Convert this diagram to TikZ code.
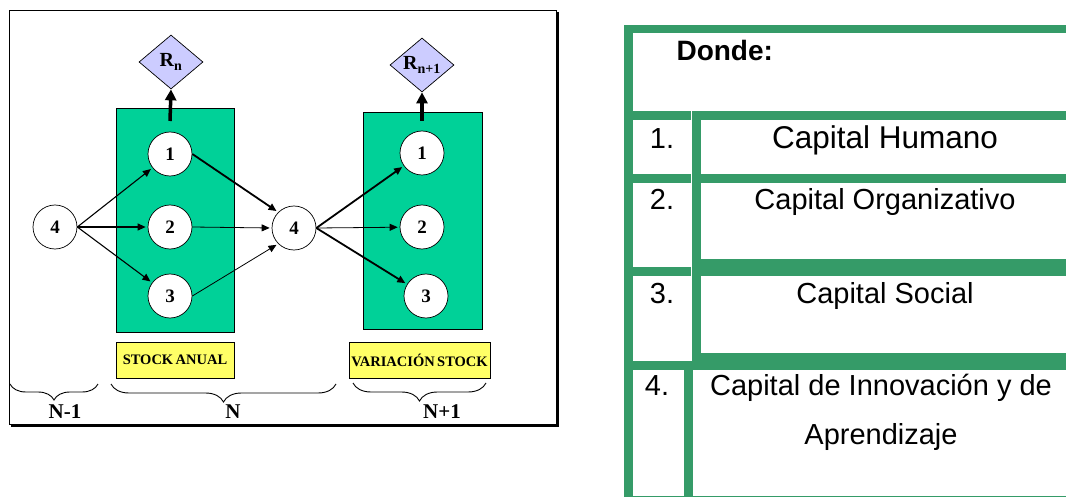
\documentclass[tikz,border=0pt]{standalone}
\usepackage{fontspec}
\setmainfont{Liberation Serif}
\newfontfamily\tabfont{Liberation Sans}
\usetikzlibrary{arrows.meta,shapes.geometric,decorations.pathreplacing}

\definecolor{boxgreen}{RGB}{0,209,152}
\definecolor{lilac}{RGB}{204,204,255}
\definecolor{labelyellow}{RGB}{255,255,102}
\definecolor{tabgreen}{RGB}{53,155,104}

\begin{document}
\begin{tikzpicture}[x=1pt,y=-1pt,
  stagebox/.style={draw=black,line width=0.8pt,fill=boxgreen},
  circ/.style={circle,draw,fill=white,minimum size=44pt,inner sep=0pt,line width=0.7pt,
    font=\fontsize{19}{19}\selectfont\bfseries},
  rnode/.style={diamond,draw,fill=lilac,minimum width=64pt,minimum height=54pt,inner sep=0pt,
    line width=0.7pt,font=\fontsize{20}{20}\selectfont\bfseries},
  tagbox/.style={draw,fill=labelyellow,line width=0.9pt,inner sep=0pt,
    font=\fontsize{14.5}{15}\selectfont\bfseries},
  flow/.style={-{Triangle[length=8pt,width=7pt]},line width=1.1pt,shorten >=2pt},
  flowthick/.style={flow,line width=1.8pt},
  flowthin/.style={flow,line width=0.8pt},
  rise/.style={-{Triangle[length=11pt,width=11pt]},line width=3.5pt},
  period/.style={line width=0.9pt,decorate,decoration={brace,mirror,amplitude=#1}},
  periodlabel/.style={anchor=base,font=\fontsize{21}{21}\selectfont\bfseries},
  bar/.style={fill=tabgreen,draw=none},
  celltext/.style={anchor=base,font=\tabfont\fontsize{29}{35}\selectfont},
]
\useasboundingbox (0,0) rectangle (1066,497);
\fill[white] (0,0) rectangle (1066,497);

% ---------- left diagram: framed panel ----------
\draw[line width=0.9pt] (9.5,10) rectangle (556,424);
\draw[line width=2.2pt] (11,425.5) -- (557.5,425.5) -- (557.5,12);

% stock boxes
\draw[stagebox] (116,108) rectangle (234,332);
\draw[stagebox] (363,112) rectangle (482,329);

% capital nodes
\node[circ] (l4) at (55,227) {4};
\node[circ] (a1) at (170,154) {1};
\node[circ] (a2) at (170,227) {2};
\node[circ] (a3) at (170,296) {3};
\node[circ] (m4) at (294,228) {4};
\node[circ] (b1) at (422,153) {1};
\node[circ] (b2) at (422,227) {2};
\node[circ] (b3) at (426,296) {3};

% results
\node[rnode] (rn)  at (171,62) {R\textsubscript{n}};
\node[rnode] (rn1) at (422,65) {R\textsubscript{n+1}};
\coordinate (s1) at (170,121);
\coordinate (s2) at (422,121);
\draw[rise] (s1) -- (rn.south);
\draw[rise] (s2) -- (rn1.south);

% flows
\draw[flow] (l4.east) -- (a1);
\draw[flow] (l4.east) -- (a2);
\draw[flow] (l4.east) -- (a3);
\draw[flowthick] (a1.east) -- (m4.north west);
\draw[flowthin] (a2.east) -- (m4.west);
\draw[flowthin] (a3.east) -- (m4.south west);
\draw[flowthick] (m4.east) -- (b1);
\draw[flowthin] (m4.east) -- (b2);
\draw[flowthick] (m4.east) -- (b3);

% period tags
\node[tagbox,minimum width=118pt,minimum height=36pt] (t1) at (175,360) {STOCK\,ANUAL};
\node[tagbox,minimum width=141pt,minimum height=36pt] (t2) at (419.5,360) {VARIACIÓN\,STOCK};

% period braces
\draw[period=16pt] (10,384) -- (98,384);
\draw[period=18pt] (111,384) -- (336,384);
\draw[period=18pt] (353,383) -- (486,383);
\node[periodlabel] (p1) at (65,418) {N-1};
\node[periodlabel] (p2) at (233,418) {N};
\node[periodlabel] (p3) at (442,418) {N+1};

% ---------- right: legend table ----------
\fill[bar] (624,25) rectangle (633,497);
\fill[bar] (624,25) rectangle (1066,33);
\fill[bar] (624,496) rectangle (1066,497);
% row separators, number column
\fill[bar] (633,111) rectangle (690.5,120);
\fill[bar] (633,174) rectangle (690.5,183);
\fill[bar] (633,267) rectangle (690.5,276);
\fill[bar] (633,361) rectangle (692,370);
% row separators, text column
\fill[bar] (692,111) rectangle (1066,120);
\fill[bar] (692,174) rectangle (1066,183);
\fill[bar] (692,259) rectangle (1066,276);
\fill[bar] (692,353) rectangle (1066,370);
% column dividers
\fill[bar] (692,111) rectangle (701,370);
\fill[bar] (684,370) rectangle (693,497);

\node[celltext,anchor=base west,font=\tabfont\bfseries\fontsize{28}{34}\selectfont] (donde) at (673,61) {Donde:};
\node[celltext] (n1) at (662,149) {1.};
\node[celltext,font=\tabfont\fontsize{31.5}{36}\selectfont] (c1) at (885,149) {Capital Humano};
\node[celltext] (n2) at (662,210) {2.};
\node[celltext] (c2) at (885,210) {Capital Organizativo};
\node[celltext] (n3) at (662,303) {3.};
\node[celltext] (c3) at (885,303) {Capital Social};
\node[celltext] (n4) at (657,395) {4.};
\node[celltext] (c4a) at (881,395) {Capital de Innovación y de};
\node[celltext] (c4b) at (881,444) {Aprendizaje};
\end{tikzpicture}
\end{document}
